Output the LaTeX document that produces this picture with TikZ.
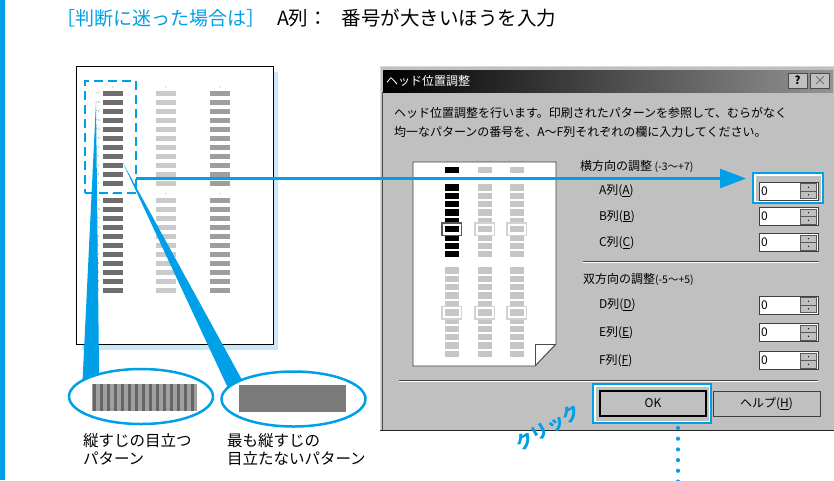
\documentclass[tikz,border=0pt]{standalone}
\usepackage{fontspec}
\setmainfont{Noto Sans CJK JP}
\usetikzlibrary{arrows.meta,positioning,shapes.geometric}
\definecolor{cyanblue}{HTML}{00A0E9}
\definecolor{winbg}{HTML}{C0C0C0}
\definecolor{paleblue}{HTML}{C8E7F9}
\definecolor{barA}{HTML}{6E6E6E}
\definecolor{barB}{HTML}{CACACA}
\definecolor{barC}{HTML}{9E9E9E}
\definecolor{blockgray}{HTML}{C6C6C6}
\begin{document}
\begin{tikzpicture}[x=1pt,y=-1pt,>=stealth,
    every node/.style={inner sep=0pt,outer sep=0pt},
    dlg/.style={font=\fontsize{12}{12}\selectfont},
    lbl/.style={dlg,anchor=west},
    capt/.style={font=\fontsize{15.5}{18.5}\selectfont,anchor=north west,align=left},
    tiny/.style={font=\fontsize{3.2}{3.2}\selectfont,text=gray},
    hilite/.style={draw=cyanblue,line width=2.5pt},
    field/.style={dlg,draw=black!75,line width=0.9pt,fill=white,minimum width=59pt,minimum height=18pt,
                  text width=55pt,align=left,inner xsep=2pt,anchor=west},
    spin/.style={draw=gray!70!black,line width=0.5pt,fill=winbg,minimum width=16pt,minimum height=15pt},
    sysbtn/.style={draw=gray!60!black,fill=winbg,minimum width=19pt,minimum height=15pt},
    dlgbtn/.style={dlg,fill=winbg,minimum height=25pt},
    zoomring/.style={ellipse,draw=cyanblue,line width=2.5pt,fill=white,minimum width=144pt,minimum height=55pt}]
    \useasboundingbox (0,0) rectangle (834,480);
    \fill[white] (0,0) rectangle (834,480);
    \fill[cyanblue] (0,0) rectangle (5,480);
    % title
    \node[anchor=west,font=\fontsize{19}{19}\selectfont,text=cyanblue] (ttlA) at (56,18) {［判断に迷った場合は］};
    \node[anchor=west,font=\fontsize{19.5}{19.5}\selectfont] (ttlB) at (277,18) {A列：\hspace{14pt}番号が大きいほうを入力};
    % printed pattern
    \fill[paleblue] (82,72) rectangle (278,350);
    \draw[fill=white,line width=0.9pt] (76,66) rectangle (273,344);
    \foreach \g/\ty in {a/93,b/200} {
        \foreach \r in {0,...,10} {
            \fill[barA] (103,{\ty-2.5+9*\r}) rectangle ++(20,5);
            \fill[barB] (156,{\ty-2.5+9*\r}) rectangle ++(20,5);
            \fill[barC] (210,{\ty-2.5+9*\r}) rectangle ++(20,5);
        }
        \foreach \x in {113,166,220} \node[tiny] (tk\g\x) at (\x,{\ty-5.5}) {+};
    }
    \foreach \v [count=\r from 0] in {+7,+6,+5,+4,+3,+2,+1,0,-1,-2,-3}
        \node[tiny] (la\r) at (98,{93+9*\r}) {\v};
    \foreach \v [count=\r from 0] in {+5,+4,+3,+2,+1,0,-1,-2,-3,-4,-5}
        \node[tiny] (lb\r) at (98,{200+9*\r}) {\v};
    \node[draw=cyanblue,line width=2pt,dash pattern=on 9pt off 5pt,minimum width=51pt,minimum height=112pt] (pick) at (110.5,137) {};
    % zoom wedges and rings
    \fill[cyanblue] (96,102) -- (82.3,386) -- (99.2,386) -- cycle;
    \fill[cyanblue] (123,163) -- (229.8,392) -- (244.3,384) -- cycle;
    \node[zoomring] (ringA) at (141,396.5) {};
    \node[zoomring] (ringB) at (293.5,399) {};
    \fill[gray!75] (92,384) rectangle (197,411);
    \foreach \s in {0,...,14} \fill[black!60] ({93+7*\s},384) rectangle ++(3.2,27);
    \fill[black!52] (239,385) rectangle (346,412);
    \node[capt] (capA) at (83,433) {縦すじの目立つ\\パターン};
    \node[capt] (capB) at (227,433) {最も縦すじの\\目立たないパターン};
    % dialog
    \fill[winbg] (380,66) rectangle (834,431);
    \draw[gray!30] (380,431) -- (380,66) -- (834,66);
    \draw[gray!60!black] (382,92) -- (382,430);
    \draw[black!85,line width=1.5pt] (380,430.5) -- (834,430.5);
    \shade[left color=black,right color=black!42] (383,70) rectangle (833,92);
    \node[lbl,text=white] (ttl) at (386,81) {ヘッド位置調整};
    \node[sysbtn] (bquery) at (797.5,80.5) {\fontsize{11}{11}\selectfont\bfseries ?};
    \node[sysbtn] (bclose) at (820,80.5) {\fontsize{13}{13}\selectfont\color{gray!80!black}×};
    \node[lbl] (msg1) at (394,113) {ヘッド位置調整を行います。印刷されたパターンを参照して、むらがなく};
    \node[lbl] (msg2) at (394,132) {均一なパターンの番号を、A〜F列それぞれの欄に入力してください。};
    % preview sheet
    \draw[gray!50!black,fill=white,line width=0.9pt] (413,162) -- (556,162) -- (556,344) -- (535,366) -- (413,366) -- cycle;
    \draw[gray!60!black,line width=0.7pt] (556,344) -- (535,344) -- (535,366);
    \foreach \x/\c/\o in {445/black/gray!70!black,478/blockgray/gray!35,510/blockgray/gray!35} {
        \fill[\c] (\x,167) rectangle ++(13.5,6.3);
        \foreach \r in {0,...,8} \fill[\c] (\x,{184.3+8.33*\r}) rectangle ++(13.5,6.3);
        \foreach \r in {0,...,10} \fill[blockgray] (\x,{267.3+8.33*\r}) rectangle ++(13.5,6.3);
        \draw[\o,line width=1.2pt,fill=white] ({\x-3},223) rectangle ({\x+16.5},235.5);
        \fill[\c] (\x,226) rectangle ++(13.5,6.3);
        \draw[gray!35,line width=1.2pt,fill=white] ({\x-3},306.5) rectangle ({\x+16.5},319);
        \fill[blockgray] (\x,309.4) rectangle ++(13.5,6.3);
    }
    % entry fields
    \node[lbl] (hdr1) at (580,166) {横方向の調整 {\fontsize{10.5}{10.5}\selectfont(-3〜+7)}};
    \foreach \n/\y in {A/191,B/216.5,C/242.5,D/305,E/332.5,F/360.5} {
        \node[lbl] (l\n) at (599,\y) {{\n}列(\underline{\n})};
        \node[field] (f\n) at (759,\y) {0};
        \node[spin,anchor=east] (s\n) at ([xshift=-1.5pt]f\n.east) {};
        \draw[gray!70!black,line width=0.5pt] (s\n.west) -- (s\n.east);
        \fill ([yshift=3.8pt]s\n.center) circle (0.7pt);
        \fill ([yshift=-3.8pt]s\n.center) circle (0.7pt);
    }
    \draw[gray!55!black] (583,261.5) -- (819,261.5);
    \draw[white] (583,262.5) -- (819,262.5);
    \node[lbl] (hdr2) at (583,279) {双方向の調整{\fontsize{10.5}{10.5}\selectfont(-5〜+5)}};
    \draw[gray!55!black] (399,380.5) -- (818,380.5);
    \draw[white] (399,381.5) -- (818,381.5);
    \node[dlgbtn,draw=black,line width=1.6pt,minimum width=106pt] (ok) at (653,403.5) {OK};
    \node[dlgbtn,draw=gray!50!black,line width=0.8pt,minimum width=107pt] (help) at (766.5,403.5) {ヘルプ(\underline{H})};
    % highlights
    \node[hilite,minimum width=70pt,minimum height=30pt] (hlA) at (788,188) {};
    \node[hilite,minimum width=118pt,minimum height=39pt] (hlok) at (652,403.5) {};
    \foreach \h in {hlA,hlok}
        \draw[white,line width=1.2pt] ([xshift=1.9pt,yshift=-1.9pt]\h.north west) rectangle ([xshift=-1.9pt,yshift=1.9pt]\h.south east);
    \path (pick.east) ++(0,41.5) coordinate (arrS);
    \draw[cyanblue,line width=2.5pt,shorten >=7pt,-{Triangle[length=26pt,width=19pt]}] (arrS) -- (hlA.west |- arrS);
    \node[rotate=30,text=cyanblue,font=\bfseries\fontsize{18}{18}\selectfont] (click) at (548,428) {クリック};
    \coordinate (dotE) at (678,484);
    \draw[cyanblue,line width=4.2pt,line cap=round,dash pattern=on 0pt off 10.7pt,shorten <=5pt] ([xshift=26pt]hlok.south) -- (dotE);
\end{tikzpicture}
\end{document}
